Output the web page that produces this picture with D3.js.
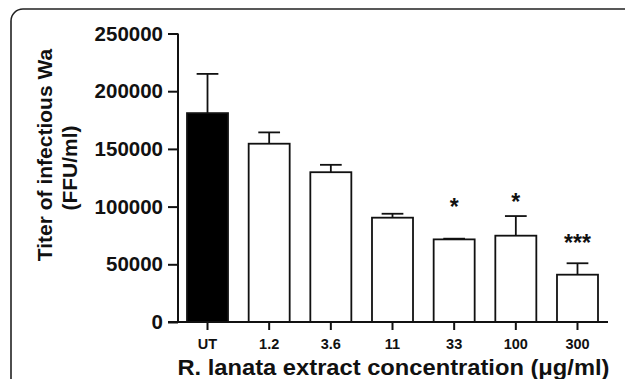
<!DOCTYPE html>
<html>
<head>
<meta charset="utf-8">
<script src="https://cdn.jsdelivr.net/npm/d3@7"></script>
<style>
  html, body { margin: 0; padding: 0; background: #fff; }
  svg { display: block; }
  text { font-family: "Liberation Sans", Arial, Helvetica, sans-serif; font-weight: bold; fill: #111; }
</style>
</head>
<body>
<svg id="chart" width="625" height="379"></svg>
<script>
// ---- data ----
const categories = ["UT", "1.2", "3.6", "11", "33", "100", "300"];
const titers = [181000, 154500, 129800, 90400, 71600, 74800, 41000];
const errors = [34000, 9800, 6400, 3400, 600, 17000, 9900];
const significance = ["", "", "", "", "*", "*", "***"];
const sigAnchor = [null, null, null, null, 92500, 97000, 61500];
const yTicks = [0, 50000, 100000, 150000, 200000, 250000];
const yTitle = ["Titer of infectious Wa", "(FFU/ml)"];
const xTitle = "R. lanata extract concentration (\u03BCg/ml)";

// ---- layout ----
const svg = d3.select("#chart");
const x0 = 178, x1 = 607, yTop = 33.5, yBase = 322;

// frame
svg.append("rect")
  .attr("x", 11).attr("y", 9).attr("width", 700).attr("height", 500)
  .attr("rx", 12).attr("ry", 12)
  .attr("fill", "none").attr("stroke", "#222").attr("stroke-width", 1.6);

const x = d3.scaleBand().domain(categories).range([x0, x1])
  .paddingInner(0.335).paddingOuter(0.146);
const y = d3.scaleLinear().domain([0, 250000]).range([yBase, yTop]);

const data = categories.map((c, i) => ({
  cat: c, v: titers[i], e: errors[i], sig: significance[i], sa: sigAnchor[i], i
}));

// bars
svg.append("g").selectAll("rect").data(data).join("rect")
  .attr("x", d => x(d.cat))
  .attr("y", d => y(d.v))
  .attr("width", x.bandwidth())
  .attr("height", d => yBase - y(d.v))
  .attr("fill", d => d.i === 0 ? "#000" : "#fff")
  .attr("stroke", "#111").attr("stroke-width", 1.8);

// error bars (upper only)
const capW = x.bandwidth() * 0.53;
const eg = svg.append("g").attr("stroke", "#111").attr("stroke-width", 1.8);
eg.selectAll("line.v").data(data).join("line").attr("class", "v")
  .attr("x1", d => x(d.cat) + x.bandwidth() / 2)
  .attr("x2", d => x(d.cat) + x.bandwidth() / 2)
  .attr("y1", d => y(d.v))
  .attr("y2", d => y(d.v + d.e));
eg.selectAll("line.c").data(data).join("line").attr("class", "c")
  .attr("x1", d => x(d.cat) + x.bandwidth() / 2 - capW / 2)
  .attr("x2", d => x(d.cat) + x.bandwidth() / 2 + capW / 2)
  .attr("y1", d => y(d.v + d.e))
  .attr("y2", d => y(d.v + d.e));

// significance stars
svg.append("g").selectAll("text").data(data.filter(d => d.sig)).join("text")
  .attr("x", d => x(d.cat) + x.bandwidth() / 2)
  .attr("y", d => y(d.sa))
  .attr("text-anchor", "middle")
  .attr("font-size", 23)
  .text(d => d.sig);

// y axis
const yAxis = d3.axisLeft(y).tickValues(yTicks).tickFormat(d3.format("d"))
  .tickSize(10).tickPadding(5);
const gy = svg.append("g").attr("transform", `translate(${x0},0)`).call(yAxis);
gy.select(".domain").attr("stroke", "#111").attr("stroke-width", 2)
  .attr("d", `M0,${yBase}V${yTop}`);
gy.selectAll(".tick line").attr("stroke", "#111").attr("stroke-width", 2);
gy.selectAll(".tick text").attr("font-size", 20.5).attr("font-family", null).attr("fill", "#111");

// x axis
const xAxis = d3.axisBottom(x).tickSize(8).tickPadding(9);
const gx = svg.append("g").attr("transform", `translate(0,${yBase})`).call(xAxis);
gx.select(".domain").attr("stroke", "#111").attr("stroke-width", 2.2)
  .attr("d", `M${x0 - 10},0H${x1 + 1}`);
gx.selectAll(".tick line").attr("stroke", "#111").attr("stroke-width", 2);
gx.selectAll(".tick text").attr("font-size", 14.5).attr("font-family", null).attr("fill", "#111");

// axis titles
svg.append("text")
  .attr("transform", "translate(51.5,155) rotate(-90)")
  .attr("text-anchor", "middle").attr("font-size", 21)
  .text(yTitle[0]);
svg.append("text")
  .attr("transform", "translate(77,168) rotate(-90)")
  .attr("text-anchor", "middle").attr("font-size", 21)
  .text(yTitle[1]);

svg.append("text")
  .attr("x", (x0 + x1) / 2 + 1).attr("y", 375)
  .attr("text-anchor", "middle").attr("font-size", 22.5)
  .attr("textLength", 432).attr("lengthAdjust", "spacingAndGlyphs")
  .text(xTitle);
</script>
</body>
</html>
